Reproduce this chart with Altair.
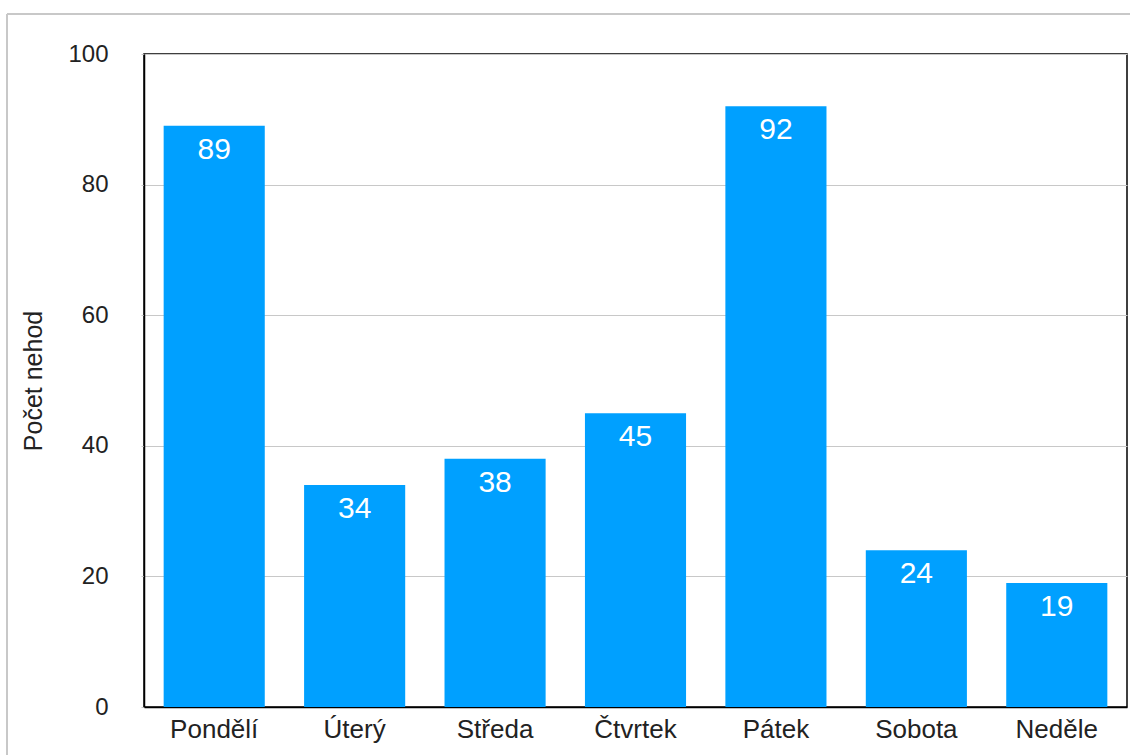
import altair as alt
import pandas as pd

days = ["Pondělí", "Úterý", "Středa", "Čtvrtek", "Pátek", "Sobota", "Neděle"]
counts = [89, 34, 38, 45, 92, 24, 19]

df = pd.DataFrame({"den": days, "pocet": counts})

FONT = "Liberation Sans"
BAR = "#00A0FF"

x = alt.X("den:N", sort=days, title=None,
          scale=alt.Scale(paddingInner=0.28, paddingOuter=0.14),
          axis=alt.Axis(labelAngle=0, labelFont=FONT, labelFontSize=26, labelColor="#222222",
                        labelPadding=9, ticks=False, domainColor="#000000", domainWidth=1.5))
y = alt.Y("pocet:Q", title="Počet nehod",
          scale=alt.Scale(domain=[0, 100]),
          axis=alt.Axis(values=[0, 20, 40, 60, 80, 100], labelFont=FONT, labelFontSize=24,
                        labelColor="#222222", labelPadding=33, tickSize=3, tickColor="#c8c8c8",
                        gridColor="#c8c8c8", gridWidth=1, domainColor="#000000", domainWidth=1.5,
                        titleFont=FONT, titleFontSize=25, titleFontWeight="normal",
                        titleColor="#222222", titlePadding=21))

base = alt.Chart(df)
bars = base.mark_bar(color=BAR).encode(x=x, y=y)
labels = base.mark_text(color="white", font=FONT, fontSize=30, baseline="middle", dy=24).encode(
    x=alt.X("den:N", sort=days), y="pocet:Q", text="pocet:Q")

border_df = pd.DataFrame({"k": [0]})
top_border = alt.Chart(border_df).mark_rule(color="#c8c8c8", strokeWidth=2, clip=False).encode(
    x=alt.value(-137), x2=alt.value(1000), y=alt.value(-40))
left_border = alt.Chart(border_df).mark_rule(color="#c8c8c8", strokeWidth=2, clip=False).encode(
    x=alt.value(-137), y=alt.value(-40), y2=alt.value(800))

chart = alt.layer(bars, labels, top_border, left_border).properties(
    width=983, height=653,
    autosize=alt.AutoSizeParams(type="none"),
    padding={"left": 144, "top": 54, "right": 3, "bottom": 48},
    background="white",
).configure_view(stroke="#000000", strokeWidth=1.5).configure_axisY(grid=True).configure_axisX(grid=False)

chart.save("out.html", embed_options={"renderer": "svg", "actions": False})
